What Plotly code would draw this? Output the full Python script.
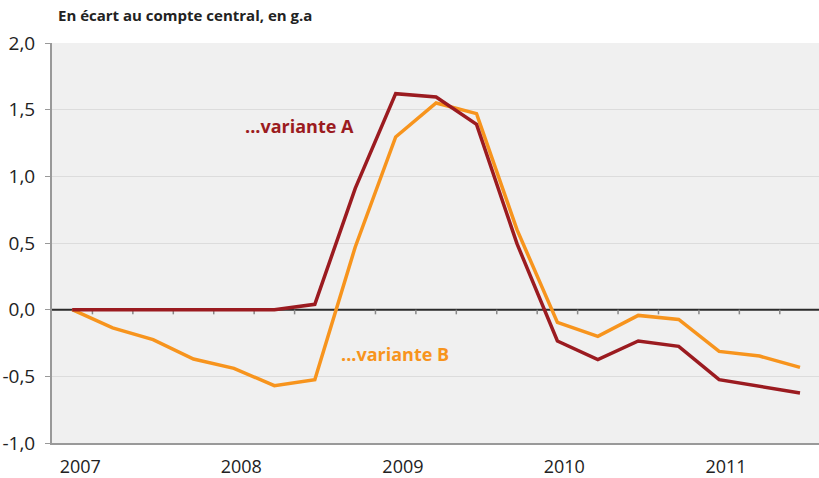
import plotly.graph_objects as go

quarters = list(range(19))  # 2007T1 .. 2011T3
variante_a = [0, 0, 0, 0, 0, 0, 0.04, 0.91, 1.62, 1.595, 1.39, 0.495, -0.235, -0.375, -0.235, -0.275, -0.525, -0.573, -0.625]
variante_b = [0, -0.137, -0.225, -0.37, -0.44, -0.57, -0.525, 0.47, 1.295, 1.55, 1.47, 0.6, -0.095, -0.2, -0.043, -0.073, -0.313, -0.348, -0.433]
year_labels = ["2007", "2008", "2009", "2010", "2011"]
year_pos = [0.2, 4.18, 8.18, 12.17, 16.17]
y_ticks = [-1.0, -0.5, 0.0, 0.5, 1.0, 1.5, 2.0]
y_tick_text = ["-1,0", "-0,5", "0,0", "0,5", "1,0", "1,5", "2,0"]

RED = "#9b1b20"
ORANGE = "#f7941d"
FONT = "Open Sans"

fig = go.Figure()
fig.add_trace(go.Scatter(x=quarters, y=variante_b, mode="lines",
                         line=dict(color=ORANGE, width=3.5), showlegend=False))
fig.add_trace(go.Scatter(x=quarters, y=variante_a, mode="lines",
                         line=dict(color=RED, width=3.5), showlegend=False))

shapes = [dict(type="line", xref="x", yref="y", x0=-0.5, x1=18.6, y0=0, y1=0,
               line=dict(color="#2b2b2b", width=2), layer="between")]
for k in range(18):
    xb = quarters[k] + 0.5
    shapes.append(dict(type="line", xref="x", yref="y", x0=xb, x1=xb, y0=0, y1=-0.035,
                       line=dict(color="#888888", width=1.5), layer="between"))

fig.update_layout(
    width=819, height=478,
    margin=dict(l=52, r=0, t=43, b=35),
    paper_bgcolor="white",
    plot_bgcolor="#f0f0f0",
    font=dict(family=FONT, color="#222222"),
    shapes=shapes,
    annotations=[
        dict(text="<b>En écart au compte central, en g.a</b>", xref="paper", yref="paper",
             x=(56 - 52) / 767, y=1 + (42.7 - 15) / 400, xanchor="left", yanchor="middle",
             showarrow=False, font=dict(size=15, color="#222222", family=FONT)),
        dict(text="<b>...variante A</b>", x=4.22, y=1.38, xref="x", yref="y",
             xanchor="left", yanchor="middle", showarrow=False,
             font=dict(size=18, color=RED, family=FONT)),
        dict(text="<b>...variante B</b>", x=6.61, y=-0.33, xref="x", yref="y",
             xanchor="left", yanchor="middle", showarrow=False,
             font=dict(size=18, color=ORANGE, family=FONT)),
    ],
)
fig.update_xaxes(range=[-0.5, 18.47], tickvals=year_pos, ticktext=year_labels,
                 showgrid=False, zeroline=False, showline=True, linecolor="#999999",
                 linewidth=2, ticks="", ticklabelstandoff=6, automargin=False,
                 tickfont=dict(size=18, color="#222222", family=FONT))
fig.update_yaxes(range=[-1.0, 2.0], tickvals=y_ticks, ticktext=y_tick_text,
                 showgrid=True, gridcolor="#dcdcdc", gridwidth=1, zeroline=False,
                 showline=True, linecolor="#999999", linewidth=2,
                 ticks="outside", ticklen=5, tickcolor="#999999",
                 ticklabelstandoff=6, automargin=False,
                 tickfont=dict(size=19, color="#222222", family=FONT))

fig.write_html("out.html", config={"displayModeBar": False},
               post_script="document.body.style.margin='0';")
